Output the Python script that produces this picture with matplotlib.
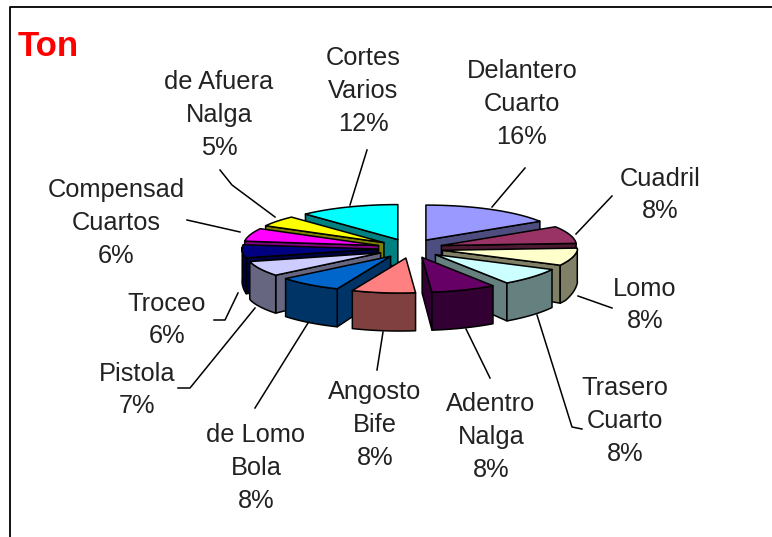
import numpy as np
import matplotlib
matplotlib.use("Agg")
import matplotlib.pyplot as plt
from matplotlib.patches import Polygon

plt.rcParams['font.family'] = ['Liberation Sans', 'DejaVu Sans']

# ---- data ----
categories = ["Delantero\nCuarto", "Cuadril", "Lomo", "Trasero\nCuarto", "Adentro\nNalga",
              "Angosto\nBife", "de Lomo\nBola", "Pistola", "Troceo",
              "Compensad\nCuartos", "de Afuera\nNalga", "Cortes\nVarios"]
values = [16, 8, 8, 8, 8, 8, 8, 7, 6, 6, 5, 12]
top_colors = ["#9999FF", "#993366", "#FFFFCC", "#CCFFFF", "#660066", "#FF8080",
              "#0066CC", "#CCCCFF", "#000080", "#FF00FF", "#FFFF00", "#00FFFF"]
side_colors = ["#4D4D80", "#4D1A33", "#808066", "#668080", "#330033", "#804040",
               "#003366", "#666680", "#000040", "#800080", "#808000", "#008080"]

# ---- layout (pixels of the image) ----
W, H = 772, 537
CX, CY = 410.0, 248.5
RX, RY = 135.0, 35.0
EX, EY = 33.0, 9.6
label_pos = [(522, 104), (660, 195), (645, 305), (625, 421), (491, 437),
             (375, 425), (256, 468), (137, 390), (167, 320), (116, 223), (219, 115), (363, 91)]
leaders = [[(525, 168), (492, 207)],
           [(612, 196), (576, 234)],
           [(612, 308), (578, 296)],
           [(537, 315), (572, 427), (582, 429)],
           [(466, 329), (490, 378)],
           [(383, 332), (377, 370)],
           [(308, 323), (255, 408)],
           [(255, 308), (190, 388), (178, 388)],
           [(238, 293), (225, 320), (214, 320)],
           [(187, 220), (240, 232)],
           [(220, 170), (232, 185), (275, 217)],
           [(367, 150), (350, 205)]]
draw_order = [11, 0, 10, 1, 9, 2, 8, 3, 7, 4, 6, 5]
LW = 1.1
FONT = 18.3
SKEW = 0.3


def depth(y):
    return np.clip(27 + (y - 238) * 0.45, 27, 38)


fig = plt.figure(figsize=(W / 100, H / 100), dpi=100)
ax = fig.add_axes([0, 0, 1, 1])
ax.set_xlim(0, W)
ax.set_ylim(H, 0)
ax.axis("off")

# frame: left and top edges only
ax.plot([10, 10, W], [H, 7, 7], color="black", lw=1.3, solid_capstyle="butt")

fractions = np.array(values, dtype=float) / sum(values)
edges = np.concatenate([[0], np.cumsum(fractions)]) * 2 * np.pi


def face(pts, color, z):
    ax.add_patch(Polygon(pts, closed=True, facecolor=color, edgecolor="black",
                         lw=LW, joinstyle="round", zorder=z))


z = 2
for i in draw_order:
    a0, a1 = edges[i], edges[i + 1]
    mid = (a0 + a1) / 2
    ax0 = CX + EX * np.sin(mid)
    ay0 = CY - EY * np.cos(mid)
    th = np.linspace(a0, a1, 30)
    rimy = ay0 - RY * np.cos(th)
    rimx = ax0 + RX * np.sin(th) - SKEW * np.clip(rimy - 250, 0, None) * (1 + np.sin(th)) / 2
    top = np.column_stack([rimx, rimy])
    bot = np.column_stack([rimx, rimy + depth(rimy)])
    apex_t = np.array([ax0, ay0])
    apex_b = np.array([ax0, ay0 + depth(ay0)])
    # end cut face (right half), start cut face (left half)
    if np.sin(a0) < 0:
        face([apex_t, top[0], bot[0], apex_b], side_colors[i], z)
    if np.sin(a1) > 0:
        face([apex_t, top[-1], bot[-1], apex_b], side_colors[i], z)
    # outer rim
    vis = np.cos(th) < 0.05
    if vis.any():
        face(np.vstack([top[vis], bot[vis][::-1]]), side_colors[i], z)
    # top face
    face(np.vstack([apex_t, top]), top_colors[i], z)
    z += 1

for i, name in enumerate(categories):
    ax.plot(*zip(*leaders[i]), color="black", lw=1.1, zorder=1)
    ax.text(label_pos[i][0], label_pos[i][1], f"{name}\n{values[i]}%", ha="center", va="center",
            fontsize=FONT, color="#222222", linespacing=1.47, zorder=30)

ax.text(18, 47, "Ton", color="#FF0000", fontsize=25, fontweight="bold", ha="left", va="center")

fig.savefig("out.png", dpi=100)
